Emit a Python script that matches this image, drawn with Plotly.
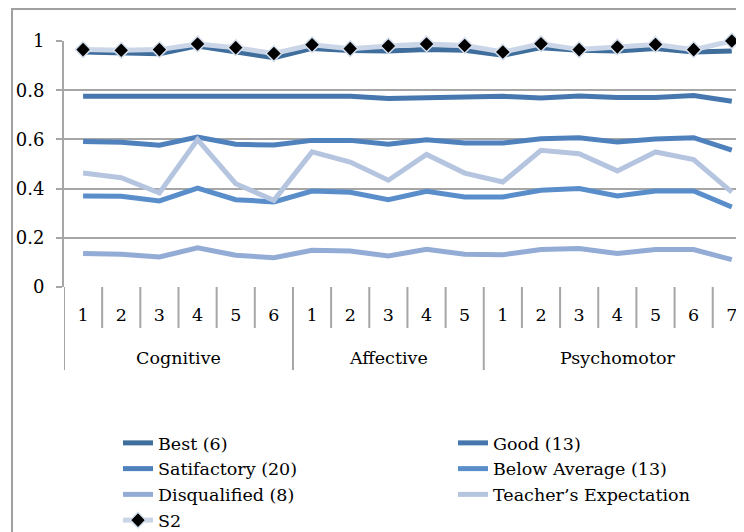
import plotly.graph_objects as go

groups = ["Cognitive"] * 6 + ["Affective"] * 5 + ["Psychomotor"] * 7
sub_labels = ["1", "2", "3", "4", "5", "6", "1", "2", "3", "4", "5",
              "1", "2", "3", "4", "5", "6", "7"]
categories = [f"{g} {s}" for g, s in zip(groups, sub_labels)]

best = [0.955, 0.953, 0.948, 0.980, 0.955, 0.932, 0.970, 0.961, 0.959,
        0.965, 0.962, 0.942, 0.973, 0.962, 0.959, 0.969, 0.955, 0.959]
good = [0.775, 0.775, 0.770, 0.772, 0.770, 0.775, 0.770, 0.775, 0.766,
        0.770, 0.770, 0.775, 0.768, 0.776, 0.770, 0.770, 0.778, 0.755]
satisfactory = [0.591, 0.588, 0.576, 0.610, 0.580, 0.577, 0.596, 0.596, 0.580,
                0.599, 0.585, 0.585, 0.603, 0.607, 0.589, 0.602, 0.607, 0.556]
below_average = [0.370, 0.369, 0.350, 0.402, 0.355, 0.346, 0.390, 0.385, 0.355,
                 0.389, 0.366, 0.366, 0.393, 0.400, 0.370, 0.390, 0.390, 0.325]
disqualified = [0.136, 0.133, 0.122, 0.159, 0.129, 0.119, 0.149, 0.146, 0.126,
                0.153, 0.133, 0.131, 0.152, 0.156, 0.136, 0.152, 0.152, 0.111]
teacher = [0.463, 0.444, 0.382, 0.599, 0.420, 0.352, 0.549, 0.508, 0.434,
           0.539, 0.463, 0.427, 0.556, 0.542, 0.472, 0.549, 0.518, 0.386]
s2 = [0.965, 0.962, 0.965, 0.988, 0.973, 0.949, 0.985, 0.969, 0.980,
      0.988, 0.982, 0.955, 0.989, 0.965, 0.976, 0.986, 0.965, 1.000]

y_ticks = [0, 0.2, 0.4, 0.6, 0.8, 1]
y_ticktext = ["0", "0.2", "0.4", "0.6", "0.8", "1"]

FONT = "DejaVu Serif"
GRID = "#a6a6a6"

series = [
    ("Best (6)", best, "#3f6d9c", "legend"),
    ("Good (13)", good, "#4678af", "legend2"),
    ("Satifactory (20)", satisfactory, "#4f81bd", "legend"),
    ("Below Average (13)", below_average, "#5a8ecb", "legend2"),
    ("Disqualified (8)", disqualified, "#93acd5", "legend"),
    ("Teacher\u2019s Expectation", teacher, "#b5c5df", "legend2"),
]

fig = go.Figure()
for name, vals, color, leg in series:
    fig.add_trace(go.Scatter(
        x=categories, y=vals, name=name, mode="lines",
        line=dict(color=color, width=5), legend=leg,
    ))
fig.add_trace(go.Scatter(
    x=categories, y=s2, name="S2", mode="lines+markers",
    line=dict(color="#cad6e8", width=5),
    marker=dict(symbol="diamond", size=12, color="black",
                line=dict(color="#d4deec", width=1.5)),
    legend="legend", cliponaxis=False,
))

n = len(categories)
shapes = []
group_starts = {0, 6, 11}
for i in range(n):
    b = i - 0.5
    length = 83 if i in group_starts else 41
    shapes.append(dict(type="line", xref="x", yref="paper", ysizemode="pixel",
                       yanchor=0, x0=b, x1=b, y0=0, y1=-length,
                       line=dict(color=GRID, width=2), layer="above"))

# page body adds an 8px offset, so the figure is sized to fit the window
W, H = 736, 524
L, T, B = 56, 33, 245
pw, ph = W - L, H - T - B
def px(x):
    return (x - L) / pw
def py(y):
    return (H - B - y) / ph
# outer chart border
shapes.append(dict(type="rect", xref="paper", yref="paper",
                   x0=px(4), x1=px(770), y0=py(560), y1=py(1),
                   line=dict(color="#a0a0a0", width=2), fillcolor="rgba(0,0,0,0)",
                   layer="below"))

annotations = []
for gname, center in [("Cognitive", 2.5), ("Affective", 8), ("Psychomotor", 14)]:
    annotations.append(dict(text=gname, x=center, xref="x", y=0, yref="paper",
                            yshift=-71, yanchor="middle", showarrow=False,
                            font=dict(family=FONT, size=17.5, color="black")))

fig.update_layout(
    width=W, height=H,
    margin=dict(l=L, r=0, t=T, b=B, autoexpand=False),
    plot_bgcolor="white", paper_bgcolor="white",
    font=dict(family=FONT, size=17, color="black"),
    shapes=shapes, annotations=annotations,
    showlegend=True,
    legend=dict(x=px(110), xanchor="left", y=py(417), yanchor="top",
                font=dict(family=FONT, size=17.5, color="black"),
                bgcolor="rgba(0,0,0,0)", tracegroupgap=0),
    legend2=dict(x=px(445), xanchor="left", y=py(417), yanchor="top",
                 font=dict(family=FONT, size=17.5, color="black"),
                 bgcolor="rgba(0,0,0,0)", tracegroupgap=0),
)
fig.update_xaxes(
    type="category", categoryorder="array", categoryarray=categories,
    range=[-0.5, -0.5 + pw / 38.16],
    tickvals=categories, ticktext=sub_labels, ticks="",
    showgrid=False, showline=False, zeroline=False, automargin=False,
    tickfont=dict(family=FONT, size=17.5, color="black"),
    ticklabelstandoff=15,
)
fig.update_yaxes(
    range=[0, 1], tickvals=y_ticks, ticktext=y_ticktext,
    ticks="outside", ticklen=6, tickwidth=2, tickcolor=GRID,
    showgrid=True, gridcolor=GRID, gridwidth=2,
    showline=True, linecolor=GRID, linewidth=2,
    zeroline=False, automargin=False,
    tickfont=dict(family=FONT, size=18, color="black"),
    ticklabelstandoff=8,
)

fig.write_html("out.html")
